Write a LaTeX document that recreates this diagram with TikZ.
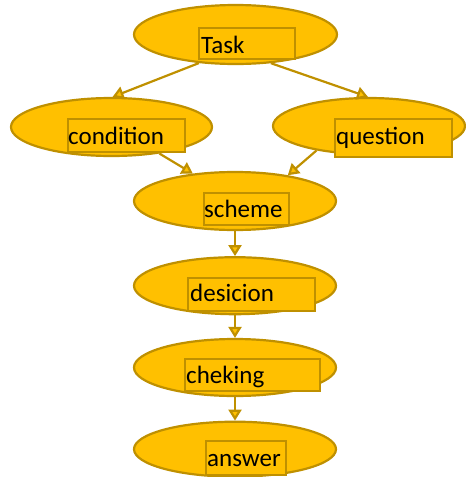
\documentclass[tikz,border=0pt]{standalone}
\usepackage{fontspec}
\setmainfont{Carlito}
\usetikzlibrary{arrows.meta,shapes.geometric}
\definecolor{yfill}{HTML}{FFC000}
\definecolor{ydraw}{HTML}{BF9000}
\tikzset{
  oval/.style={ellipse, draw=ydraw, fill=yfill, line width=2.2pt, inner sep=0pt},
  tbox/.style={rectangle, draw=ydraw, fill=yfill, line width=2.2pt, inner sep=0pt, anchor=north west},
  lbl/.style={anchor=base west, inner sep=0pt, font=\fontsize{25}{30}\selectfont},
  conn/.style={draw=ydraw, line width=2.2pt, -{Triangle[length=11pt,width=13pt,fill=yfill]}}
}
\newcommand{\ov}[5]{\node[oval, minimum width=#4pt, minimum height=#5pt] (#1) at (#2,#3) {};}
\begin{document}
\begin{tikzpicture}[x=1pt,y=-1pt]
\useasboundingbox (0,0) rectangle (466,477);
% ellipses
\ov{task}{235.5}{34.5}{203}{59}
\ov{cond}{111.5}{127}{201}{58}
\ov{ques}{369}{126}{192}{56}
\ov{sch}{235}{201}{202}{58}
\ov{des}{235}{285.7}{202}{57}
\ov{chk}{235}{367.5}{202}{57}
\ov{ans}{235}{449.2}{202}{55}
% text boxes
\node[tbox, minimum width=96pt, minimum height=31pt] (taskb) at (198,27) {};
\node[tbox, minimum width=117pt, minimum height=33pt] (condb) at (67,118) {};
\node[tbox, minimum width=117pt, minimum height=38pt] (quesb) at (334,118) {};
\node[tbox, minimum width=85pt, minimum height=32pt] (schb) at (203,192) {};
\node[tbox, minimum width=127pt, minimum height=33pt] (desb) at (187,277) {};
\node[tbox, minimum width=135pt, minimum height=32pt] (chkb) at (184,358) {};
\node[tbox, minimum width=80pt, minimum height=34pt] (ansb) at (205,440) {};
% labels
\node[lbl] (taskt) at (201,53) {Task};
\node[lbl] (condt) at (68,144) {condition};
\node[lbl] (quest) at (336,144) {question};
\node[lbl] (scht) at (204,217) {scheme};
\node[lbl] (dest) at (190,301) {desicion};
\node[lbl] (chkt) at (186,383) {cheking};
\node[lbl] (anst) at (207,466) {answer};
% connectors
\draw[conn] (task.218.8) -- (cond.88);
\draw[conn] (task.321.8) -- (ques.92);
\draw[conn] (cond.331.7) -- (sch.147.8);
\draw[conn] (ques.205.6) -- (sch.26.7);
\draw[conn] (sch.south) -- (des.north);
\draw[conn] (des.south) -- (chk.north);
\draw[conn] (chk.south) -- (ans.north);
\end{tikzpicture}
\end{document}
